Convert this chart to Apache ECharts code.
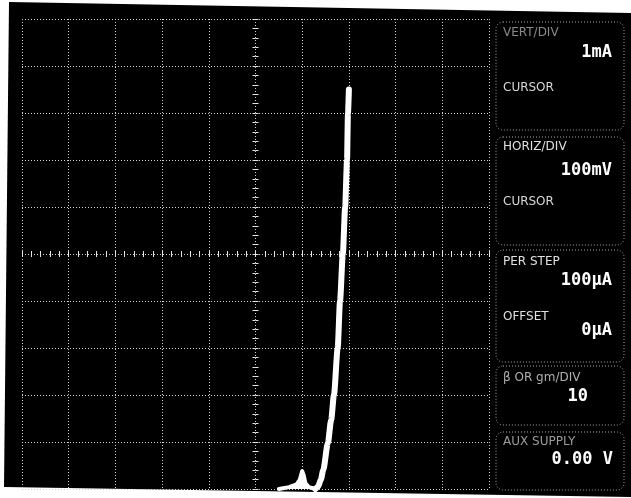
<!DOCTYPE html>
<html style="height: 100%">
  <head>
    <meta charset="UTF-8" />
    <title>Curve tracer</title>
    <script src="https://cdn.jsdelivr.net/npm/echarts@6/dist/echarts.min.js"></script>
  </head>
  <body style="height: 100%; margin: 0; background: #fff">
    <div id="main" style="width: 631px; height: 498px"></div>
    <script>
      // forward trace, horizontal in mV (100 mV/div), vertical in mA (1 mA/div)
      var traceVolts = [628, 634, 640, 645, 655, 662, 668, 676, 681, 687, 692, 696, 698, 700];
      var traceAmps = [0, 0.05, 0.2, 0.4, 0.98, 1.47, 2.0, 3.0, 4.0, 5.0, 6.0, 7.0, 8.0, 8.5];
      // small spur at the foot of the trace
      var spurVolts = [550, 572, 588, 595, 600, 603, 607, 614, 630];
      var spurAmps = [0, 0.04, 0.1, 0.2, 0.38, 0.3, 0.12, 0.04, 0];

      var readoutTitles = ['VERT/DIV', 'HORIZ/DIV', 'PER STEP', 'β OR gm/DIV', 'AUX SUPPLY'];
      var readoutValues = ['1mA', '100mV', '100μA', '10', '0.00 V'];
      var offsetValue = '0μA';

      function zip(a, b) {
        return a.map(function (v, i) { return [v, b[i]]; });
      }

      var chartDom = document.getElementById('main');
      var myChart = echarts.init(chartDom);

      var gridLine = { color: '#cfcfcf', width: 1, type: [1, 2] };
      var tickStyle = { color: '#e6e6e6', width: 1 };

      function centerAxis(inside, otherIndex) {
        return {
          type: 'value',
          min: -5,
          max: 5,
          interval: 1,
          axisLine: { show: true, onZero: true, onZeroAxisIndex: otherIndex, lineStyle: { opacity: 0 } },
          axisTick: { show: true, inside: inside, length: 3, lineStyle: tickStyle },
          minorTick: { show: true, splitNumber: 5, length: 3, lineStyle: tickStyle },
          axisLabel: { show: false },
          splitLine: { show: false }
        };
      }

      var labelFont = '12px "DejaVu Sans"';
      var valueFont = 'bold 17px "DejaVu Sans Mono"';

      function box(y, h) {
        return {
          type: 'rect',
          shape: { x: 496, y: y, width: 128, height: h, r: 7 },
          style: { fill: 'none', stroke: '#a8a8a8', lineWidth: 1, lineDash: [1, 2] }
        };
      }
      function label(text, y, color) {
        return {
          type: 'text', x: 503, y: y,
          style: { text: text, font: labelFont, fill: color, textVerticalAlign: 'middle' }
        };
      }
      function value(text, x, y) {
        return {
          type: 'text', x: x, y: y,
          style: { text: text, font: valueFont, fill: '#fff', textAlign: 'right', textVerticalAlign: 'middle' }
        };
      }

      var option = {
        backgroundColor: '#fff',
        animation: false,
        grid: { left: 22, right: 142, top: 19, bottom: 9 },
        xAxis: [
          {
            type: 'value', min: 0, max: 1000, interval: 100,
            axisLine: { show: false, onZero: false }, axisTick: { show: false }, axisLabel: { show: false },
            splitLine: { show: true, lineStyle: gridLine }
          },
          centerAxis(true, 1),
          centerAxis(false, 1)
        ],
        yAxis: [
          {
            type: 'value', min: 0, max: 10, interval: 1,
            axisLine: { show: false, onZero: false }, axisTick: { show: false }, axisLabel: { show: false },
            splitLine: { show: true, lineStyle: gridLine }
          },
          centerAxis(true, 1),
          centerAxis(false, 1)
        ],
        graphic: [
          {
            type: 'polygon', z: -100, silent: true,
            shape: { points: [[9, 2], [631, 13], [631, 497], [4, 487]] },
            style: { fill: '#000' }
          },
          box(22, 108),
          label(readoutTitles[0], 33, '#8a8a8a'),
          value(readoutValues[0], 612, 53),
          label('CURSOR', 88, '#d8d8d8'),
          box(137, 108),
          label(readoutTitles[1], 147, '#e0e0e0'),
          value(readoutValues[1], 612, 171),
          label('CURSOR', 202, '#d8d8d8'),
          box(250, 112),
          label(readoutTitles[2], 262, '#e0e0e0'),
          value(readoutValues[2], 612, 281),
          label('OFFSET', 317, '#e0e0e0'),
          value(offsetValue, 612, 331),
          box(366, 59),
          label(readoutTitles[3], 378, '#b0b0b0'),
          value(readoutValues[3], 588, 397),
          box(432, 58),
          label(readoutTitles[4], 442, '#9a9a9a'),
          value(readoutValues[4], 613, 460)
        ],
        series: [
          {
            type: 'line',
            xAxisIndex: 0,
            yAxisIndex: 0,
            data: zip(spurVolts, spurAmps),
            smooth: false,
            showSymbol: false,
            clip: false,
            lineStyle: { color: '#fff', width: 4, cap: 'round', join: 'round' },
            areaStyle: { color: '#fff', opacity: 1 }
          },
          {
            type: 'line',
            xAxisIndex: 0,
            yAxisIndex: 0,
            data: zip(traceVolts, traceAmps),
            smooth: 0.25,
            smoothMonotone: 'x',
            showSymbol: false,
            clip: false,
            lineStyle: { color: '#fff', width: 6, cap: 'round', join: 'round' }
          }
        ]
      };

      myChart.setOption(option);
    </script>
  </body>
</html>
